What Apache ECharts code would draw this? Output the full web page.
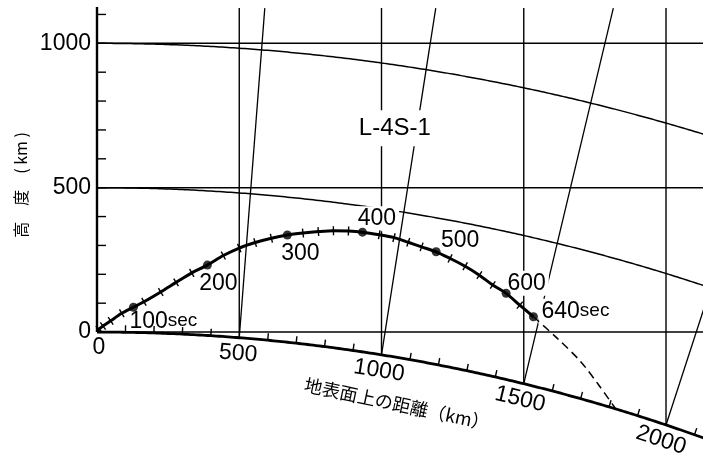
<!DOCTYPE html>
<html>
<head>
<meta charset="utf-8">
<script src="https://cdn.jsdelivr.net/npm/echarts@6/dist/echarts.min.js"></script>
<style>
  html, body { margin: 0; padding: 0; background: #fff; }
  #c { width: 703px; height: 462px; }
</style>
</head>
<body>
<div id="c"></div>
<script>
// L-4S-1 flight path drawn over a section of the curved Earth (all values in km)
const EARTH_R = 6378;

// flight time (s) and vehicle position, one fix every 20 s
const flightTime = [0, 20, 40, 60, 80, 100, 120, 140, 160, 180, 200, 220, 240, 260, 280, 300,
  320, 340, 360, 380, 400, 420, 440, 460, 480, 500, 520, 540, 560, 580, 600, 620, 640];
const pathX = [0, 7, 21, 48, 87, 128, 165, 224, 278, 333, 388, 444, 500, 556, 613, 669,
  724, 778, 831, 884, 933, 992, 1044, 1094, 1141, 1192, 1241, 1294, 1344, 1391, 1438, 1486, 1534];
const pathY = [0, 10, 21, 39, 65, 86, 105, 139, 172, 205, 232, 265, 291, 310, 325, 336,
  343, 348, 351, 350, 346, 337, 327, 311, 295, 278, 255, 228, 197, 163, 134, 93, 53];

// instants marked with a dot and a label
const markTimes = [100, 200, 300, 400, 500, 600, 640];
const markNames = ['100', '200', '300', '400', '500', '600', '640'];

// predicted fall after the last fix, down to the surface
const fallX = [1534, 1617, 1698, 1761, 1821];
const fallY = [53, -21, -100, -180, -263];

// flat reference grid
const gridHeights = [0, 500, 1000];
const gridDistances = [500, 1000, 1500, 2000];
// constant-altitude shells concentric with the surface
const shellHeights = [0, 500, 1000];
// ticks and labels along the surface and the height axis
const groundTicks = [100, 200, 300, 400, 500, 600, 700, 800, 900, 1000, 1100, 1200, 1300, 1400,
  1500, 1600, 1700, 1800, 1900, 2000, 2100];
const groundLabels = [0, 500, 1000, 1500, 2000];
const heightTicks = [100, 200, 300, 400, 500, 600, 700, 800, 900, 1000, 1100];
const heightLabels = [0, 500, 1000];

const vehicleName = 'L-4S-1';
const yTitle = '高　度　( km )';
const xTitle = '地表面上の距離（km）';

// ---- layout and styling ----
const TOP_H = 1122;          // upper end of the vertical lines
const RIGHT_D = 2130;        // right end of the plotted range
const NUM_FONT = '23px "Liberation Sans", Arial, sans-serif';
const SEC_FONT = '19px "Liberation Sans", Arial, sans-serif';
// label placement relative to each dot: [dx, dy, align, white backing]
const markLabelLayout = [[-4, 14, 'left', false], [11, 18.5, 'center', false], [13, 19, 'center', false],
  [14.5, -13.5, 'center', true], [24, -11, 'center', false], [20.5, -10, 'center', true], [5, -5.5, 'left', true]];
const namePos = [1047, 706];

const R = EARTH_R;
const shellY = (x, h) => Math.sqrt((R + h) * (R + h) - x * x) - R;
const surfaceY = x => shellY(x, 0);
const radial = x => [x / R, Math.sqrt(R * R - x * x) / R];

function seg(p0, p1, w, extra) {
  return {
    type: 'line',
    shape: { x1: p0[0], y1: p0[1], x2: p1[0], y2: p1[1] },
    style: Object.assign({ stroke: '#000', lineWidth: w, lineCap: 'butt' }, extra || {})
  };
}

// pixel direction of the local vertical at surface distance d
function upDir(api, d) {
  const u = radial(d), y0 = surfaceY(d);
  const p0 = api.coord([d, y0]);
  const p1 = api.coord([d + u[0] * 100, y0 + u[1] * 100]);
  const L = Math.hypot(p1[0] - p0[0], p1[1] - p0[1]);
  return { p0: p0, dx: (p1[0] - p0[0]) / L, dy: (p1[1] - p0[1]) / L };
}

function renderFrame(params, api) {
  const c = api.coord;
  const kids = [];
  gridHeights.forEach(h => kids.push(seg(c([0, h]), c([RIGHT_D, h]), 1.4)));
  gridDistances.forEach(d => {
    const y0 = surfaceY(d);
    kids.push(seg(c([d, y0]), c([d, TOP_H]), 1.4));
    const u = radial(d);
    const t = (TOP_H - y0) / u[1];
    kids.push(seg(c([d, y0]), c([d + u[0] * t, TOP_H]), 1.3));
  });
  shellHeights.forEach(h => {
    const pts = [];
    for (let x = 0; x <= RIGHT_D + 20; x += 10) pts.push(c([x, shellY(x, h)]));
    kids.push({
      type: 'polyline', shape: { points: pts },
      style: { stroke: '#000', fill: null, lineWidth: h === 0 ? 2.8 : 1.5 }
    });
  });
  groundTicks.forEach(d => {
    if (gridDistances.indexOf(d) >= 0) return;
    const g = upDir(api, d);
    kids.push(seg(g.p0, [g.p0[0] + g.dx * 7, g.p0[1] + g.dy * 7], 1.4));
  });
  kids.push(seg(c([0, 0]), c([0, TOP_H + 4]), 2.4));
  heightTicks.forEach(h => {
    const p = c([0, h]);
    kids.push(seg(p, [p[0] + 9, p[1]], 1.4));
  });
  groundLabels.forEach(d => {
    const g = upDir(api, d);
    const ang = Math.atan2(g.dx, -g.dy);
    kids.push({
      type: 'text', x: g.p0[0] - g.dx * 16 + (d === 0 ? 2 : 0), y: g.p0[1] - g.dy * 16,
      rotation: -ang,
      style: { text: String(d), x: 0, y: 0, align: 'center', verticalAlign: 'middle', font: NUM_FONT, fill: '#000' }
    });
  });
  return { type: 'group', children: kids };
}

function renderLabels(params, api) {
  const kids = [];
  markTimes.forEach((t, k) => {
    const i = flightTime.indexOf(t);
    const p = api.coord([pathX[i], pathY[i]]);
    const lay = markLabelLayout[k];
    const withUnit = lay[2] === 'left';
    const st = {
      text: withUnit ? '{n|' + markNames[k] + '}{s|sec}' : markNames[k],
      x: 0, y: 0, align: lay[2], verticalAlign: 'middle', font: NUM_FONT, fill: '#000',
      rich: { n: { font: NUM_FONT, fill: '#000' }, s: { font: SEC_FONT, fill: '#000' } }
    };
    if (lay[3]) { st.backgroundColor = '#fff'; st.padding = [1, 3]; }
    kids.push({ type: 'text', x: p[0] + lay[0], y: p[1] + lay[1], style: st });
  });
  const q = api.coord(namePos);
  kids.push({
    type: 'text', x: q[0], y: q[1],
    style: {
      text: vehicleName, x: 0, y: 0, align: 'center', verticalAlign: 'middle',
      font: '24px "Liberation Sans", Arial, sans-serif', fill: '#000',
      backgroundColor: '#fff', padding: [6, 4]
    }
  });
  return { type: 'group', children: kids };
}

const pathTicks = flightTime.filter(t => t > 0 && markTimes.indexOf(t) < 0);

function renderPathTick(params, api) {
  const t = pathTicks[params.dataIndex];
  const i = flightTime.indexOf(t);
  const pa = api.coord([pathX[i - 1], pathY[i - 1]]);
  const pb = api.coord([pathX[i + 1], pathY[i + 1]]);
  const p = api.coord([pathX[i], pathY[i]]);
  const L = Math.hypot(pb[0] - pa[0], pb[1] - pa[1]);
  const nx = -(pb[1] - pa[1]) / L, ny = (pb[0] - pa[0]) / L;
  return seg([p[0] - nx * 4.5, p[1] - ny * 4.5], [p[0] + nx * 4.5, p[1] + ny * 4.5], 1.4);
}

const chart = echarts.init(document.getElementById('c'));
chart.setOption({
  animation: false,
  backgroundColor: '#fff',
  grid: { left: 97, right: 0, top: 0, bottom: 0 },
  xAxis: { type: 'value', min: 0, max: RIGHT_D, show: false },
  yAxis: {
    type: 'value', min: -450, max: 1150, interval: 50,
    axisLine: { show: false }, axisTick: { show: false }, splitLine: { show: false },
    axisLabel: {
      formatter: v => heightLabels.indexOf(v) >= 0 ? String(v) : '',
      margin: 6, color: '#000', fontSize: 23, fontFamily: '"Liberation Sans", Arial, sans-serif'
    }
  },
  graphic: [
    {
      type: 'text', x: 21, y: 185, rotation: Math.PI / 2,
      style: { text: yTitle, x: 0, y: 0, align: 'center', verticalAlign: 'middle',
        font: '16px "Noto Sans CJK JP", sans-serif', fill: '#000' }
    },
    {
      type: 'text', x: 397, y: 404, rotation: -12 * Math.PI / 180,
      style: { text: xTitle, x: 0, y: 0, align: 'center', verticalAlign: 'middle',
        font: '18px "Noto Sans CJK JP", sans-serif', fill: '#000' }
    }
  ],
  series: [
    { type: 'custom', z: 1, silent: true, clip: false, data: [[0, 0]], renderItem: renderFrame },
    { type: 'custom', z: 3, silent: true, clip: false, data: [[0, 0]], renderItem: renderLabels },
    {
      type: 'line', z: 4, silent: true, symbol: 'none', smooth: 0.3,
      data: fallX.map((x, i) => [x, fallY[i]]),
      lineStyle: { color: '#000', width: 1.5, type: [8, 5] }
    },
    {
      type: 'line', z: 5, silent: true, symbol: 'none', smooth: 0.3,
      data: pathX.map((x, i) => [x, pathY[i]]),
      lineStyle: { color: '#000', width: 3 }
    },
    {
      type: 'custom', z: 6, silent: true, clip: false,
      data: pathTicks.map(t => [pathX[flightTime.indexOf(t)], pathY[flightTime.indexOf(t)]]),
      renderItem: renderPathTick
    },
    {
      type: 'scatter', z: 7, silent: true, symbolSize: 9,
      itemStyle: { color: '#000' },
      data: markTimes.map(t => [pathX[flightTime.indexOf(t)], pathY[flightTime.indexOf(t)]])
    }
  ]
});
</script>
</body>
</html>
